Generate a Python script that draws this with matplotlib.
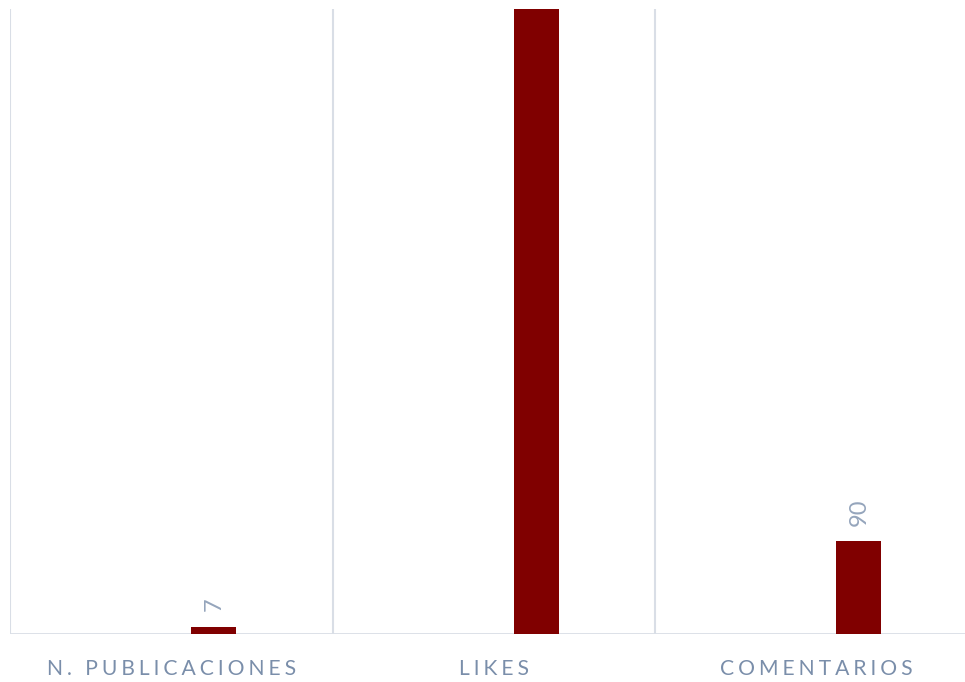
import matplotlib.pyplot as plt
import numpy as np

# datos
categorias = ['N. PUBLICACIONES', 'LIKES', 'COMENTARIOS']
valores = [7, 700, 90]
mostrar_etiqueta = [True, False, True]

plt.rcParams['font.family'] = ['Lato', 'DejaVu Sans']

fig = plt.figure(figsize=(9.65, 6.82), dpi=100)
W, H = 965, 682
ax = fig.add_axes([10 / W, 48 / H, 967.5 / W, 625 / H])

x = np.arange(len(categorias))
offset = 0.132
bars = ax.bar(x + offset, valores, width=0.14, color='#800000', zorder=3)

ax.set_xlim(-0.5, len(categorias) - 0.5)
ax.set_ylim(0, 605)

# lineas divisorias entre categorias
for b in np.arange(-0.5, len(categorias), 1.0):
    ax.axvline(b, color='#D9DEE6', lw=1.5, zorder=1)
ax.axhline(0, color='#D9DEE6', lw=2, zorder=2)

for sp in ax.spines.values():
    sp.set_visible(False)
ax.set_yticks([])
ax.set_xticks([])

# etiquetas de valor
for xi, v, m in zip(x, valores, mostrar_etiqueta):
    if m:
        ax.annotate(str(v), (xi + offset, v), xytext=(0, 11), textcoords='offset points',
                    rotation=90, ha='center', va='bottom', fontsize=17, color='#95A5BC')

# etiquetas de categoria con espaciado entre letras
for xi, c in zip(x, categorias):
    txt = '\u2009\u200a'.join(c)
    ax.text(xi, -34, txt, ha='center', va='center', fontsize=15.2, color='#7A8EAA',
            transform=ax.transData)

fig.savefig('out.png', dpi=100)
